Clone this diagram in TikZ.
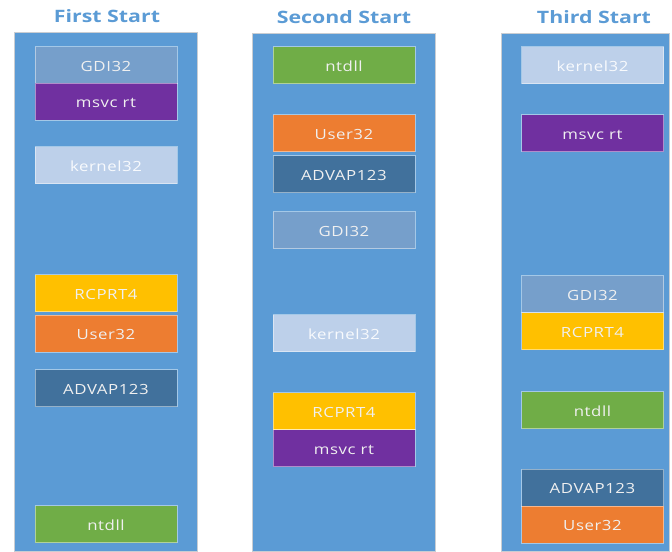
\documentclass[tikz,border=0pt]{standalone}
\usepackage{fontspec}
\setmainfont{Open Sans}[FakeStretch=1.2, LetterSpace=4]
\newfontfamily\headfont{Open Sans}[FakeStretch=1.25]

\definecolor{panel}{HTML}{5B9BD5}
\definecolor{panelline}{HTML}{C9CDD2}
\definecolor{cgdi}{HTML}{769FCB}
\definecolor{cmsvc}{HTML}{7030A0}
\definecolor{ckernel}{HTML}{BDD0EA}
\definecolor{crcprt}{HTML}{FFC000}
\definecolor{cuser}{HTML}{ED7D31}
\definecolor{cadvap}{HTML}{41719C}
\definecolor{cntdll}{HTML}{70AD47}
\definecolor{headblue}{HTML}{5B9BD5}

\tikzset{
  colbox/.style={draw=panelline, line width=0.75pt, fill=panel, inner sep=0pt},
  libbox/.style={draw=white, draw opacity=0.45, line width=0.75pt,
    minimum width=106.5pt, minimum height=27.75pt, inner sep=0pt,
    text height=8.6pt, text depth=0pt, text=white!94!black, font=\fontsize{10.5}{12}\selectfont},
  gdi/.style={libbox, fill=cgdi},
  msvc/.style={libbox, fill=cmsvc},
  kern/.style={libbox, fill=ckernel, text=white!90!ckernel},
  rcprt/.style={libbox, fill=crcprt},
  usr/.style={libbox, fill=cuser},
  advap/.style={libbox, fill=cadvap},
  ntd/.style={libbox, fill=cntdll},
  heading/.style={text=headblue, font=\headfont\bfseries\fontsize{12.8}{15}\selectfont, inner sep=0pt}
}

\begin{document}
\begin{tikzpicture}[x=0.75pt, y=-0.75pt]
\useasboundingbox (0,0) rectangle (672,552);

% column panels
\node[colbox, minimum width=137.25pt, minimum height=389.25pt] (col1) at (105.5,292.5) {};
\node[colbox, minimum width=137.25pt, minimum height=388.5pt] (col2) at (343.5,293) {};
\node[colbox, minimum width=126pt, minimum height=388.5pt] (col3) at (585,293) {};

% headings
\node[heading] (h1) at (107,16) {First Start};
\node[heading] (h2) at (344,17) {Second Start};
\node[heading] (h3) at (594,17) {Third Start};

% first start
\node[gdi]   (a1) at (106,65.5)  {GDI32};
\node[msvc]  (a2) at (106,102)   {msvc rt};
\node[kern]  (a3) at (106,165.5) {kernel32};
\node[rcprt] (a4) at (106,293.5) {RCPRT4};
\node[usr]   (a5) at (106,334)   {User32};
\node[advap] (a6) at (106,388.5) {ADVAP123};
\node[ntd]   (a7) at (106,524.5) {ntdll};

% second start
\node[ntd]   (b1) at (344,65.5)  {ntdll};
\node[usr]   (b2) at (344,133.5) {User32};
\node[advap] (b3) at (344,174.5) {ADVAP123};
\node[gdi]   (b4) at (344,230.5) {GDI32};
\node[kern]  (b5) at (344,333.5) {kernel32};
\node[rcprt] (b6) at (344,411.5) {RCPRT4};
\node[msvc]  (b7) at (344,448.5) {msvc rt};

% third start
\node[kern]  (c1) at (592.5,65.5)  {kernel32};
\node[msvc]  (c2) at (592.5,133.5) {msvc rt};
\node[gdi]   (c3) at (592.5,294.5) {GDI32};
\node[rcprt] (c4) at (592.5,331.5) {RCPRT4};
\node[ntd]   (c5) at (592.5,410.5) {ntdll};
\node[advap] (c6) at (592.5,488)   {ADVAP123};
\node[usr]   (c7) at (592.5,525)   {User32};
\end{tikzpicture}
\end{document}
